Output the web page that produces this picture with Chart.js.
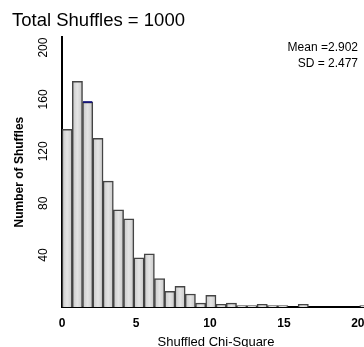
<!DOCTYPE html>
<html>
<head>
<meta charset="utf-8">
<script src="https://cdn.jsdelivr.net/npm/chart.js@4"></script>
<style>
  html, body { margin: 0; padding: 0; background: #fff; }
  #wrap { width: 364px; height: 347px; overflow: hidden; position: relative; }
  #inner { width: 376px; height: 347px; position: absolute; left: 0; top: 0; }
</style>
</head>
<body>
<div id="wrap"><div id="inner"><canvas id="c"></canvas></div></div>
<script>
// ---- data ----
const titleText = "Total Shuffles = 1000";
const xTitle = "Shuffled Chi-Square";
const yTitle = "Number of Shuffles";
const statLines = ["Mean =2.902", "SD = 2.477"];
// histogram bin centres (bin width ~0.694)
const binCenters = [0.347, 1.041, 1.735, 2.429, 3.123, 3.817, 4.511, 5.205, 5.899, 6.593,
                    7.287, 7.981, 8.675, 9.369, 10.063, 10.757, 11.451, 12.145, 12.839, 13.533,
                    14.227, 14.921, 15.615, 16.309, 17.003, 17.697, 18.391, 19.085, 19.779, 20.473];
const counts = [137, 174, 158, 130, 97, 75, 68, 38, 41, 22,
                12, 16, 10, 3, 9, 2, 3, 1, 1, 2,
                1, 1, 0, 2, 0, 0, 0, 0, 0, 1];
const xTicks = [0, 5, 10, 15, 20];
const yTicks = [40, 80, 120, 160, 200];
const xMax = 20.82;
const yMax = 208;
const highlightedBin = 2; // bar drawn with a dark-blue top edge in the reference

const FONT = "'Liberation Sans', Arial, sans-serif";

const statsPlugin = {
  id: 'stats',
  afterDatasetsDraw(chart) {
    const bar = chart.getDatasetMeta(0).data[highlightedBin];
    if (bar) {
      const ctx = chart.ctx;
      ctx.save();
      ctx.strokeStyle = '#14147a';
      ctx.lineWidth = 1.8;
      ctx.beginPath();
      ctx.moveTo(bar.x - bar.width / 2 + 0.5, bar.y);
      ctx.lineTo(bar.x + bar.width / 2 - 0.5, bar.y);
      ctx.stroke();
      ctx.restore();
    }
  },
  afterDraw(chart) {
    const ctx = chart.ctx;
    ctx.save();
    ctx.font = "12px " + FONT;
    ctx.fillStyle = '#000';
    ctx.textAlign = 'right';
    ctx.textBaseline = 'middle';
    ctx.fillText(statLines[0], 358, 48);
    ctx.fillText(statLines[1], 358, 64);
    ctx.restore();
  }
};

function barFill(ctx) {
  const chart = ctx.chart;
  const xs = chart.scales && chart.scales.x;
  if (!chart.chartArea || !xs || ctx.dataIndex === undefined) return '#d8d8d8';
  const i = ctx.dataIndex;
  const c = xs.getPixelForValue(binCenters[i]);
  const other = i + 1 < binCenters.length ? binCenters[i + 1] : binCenters[i - 1];
  const w = Math.abs(xs.getPixelForValue(other) - c);
  const g = chart.ctx.createLinearGradient(c - w / 2, 0, c + w / 2, 0);
  g.addColorStop(0, '#c8c8c8');
  g.addColorStop(0.5, '#e4e4e4');
  g.addColorStop(1, '#c8c8c8');
  return g;
}

new Chart(document.getElementById('c'), {
  type: 'bar',
  data: {
    datasets: [{
      data: binCenters.map((x, i) => ({ x: x, y: counts[i] })),
      backgroundColor: barFill,
      borderColor: '#444',
      borderWidth: 1.5,
      barPercentage: 1,
      categoryPercentage: 1
    }]
  },
  options: {
    responsive: true,
    maintainAspectRatio: false,
    animation: false,
    layout: { padding: { left: 12, right: 6, top: 0, bottom: 0 } },
    plugins: {
      legend: { display: false },
      tooltip: { enabled: false },
      title: {
        display: true,
        text: titleText,
        align: 'start',
        color: '#000',
        font: { family: FONT, size: 18.5, weight: 'normal' },
        padding: { top: 10, bottom: 5 }
      }
    },
    scales: {
      x: {
        type: 'linear',
        offset: false,
        min: 0,
        max: xMax,
        grid: { display: false, drawTicks: false },
        border: { display: true, color: '#000', width: 2 },
        afterBuildTicks: s => { s.ticks = xTicks.map(v => ({ value: v })); },
        ticks: {
          color: '#000',
          font: { family: FONT, size: 12, weight: 'bold' },
          padding: 9,
          maxRotation: 0
        },
        title: {
          display: true,
          text: xTitle,
          color: '#000',
          font: { family: FONT, size: 13, weight: 'normal' },
          padding: { top: 0, bottom: -3 }
        },
        afterFit: s => { s.height = 40; }
      },
      y: {
        min: 0,
        max: yMax,
        grid: { display: false, drawTicks: false },
        border: { display: true, color: '#000', width: 2 },
        afterBuildTicks: s => { s.ticks = yTicks.map(v => ({ value: v })); },
        ticks: {
          color: '#000',
          font: { family: FONT, size: 12, weight: 'normal' },
          minRotation: 90,
          maxRotation: 90,
          crossAlign: 'center',
          padding: 8
        },
        title: {
          display: true,
          text: yTitle,
          color: '#000',
          font: { family: FONT, size: 12, weight: 'bold' },
          padding: { top: 0, bottom: 0 }
        },
        afterFit: s => { s.width = 50; }
      }
    }
  },
  plugins: [statsPlugin]
});
</script>
</body>
</html>
